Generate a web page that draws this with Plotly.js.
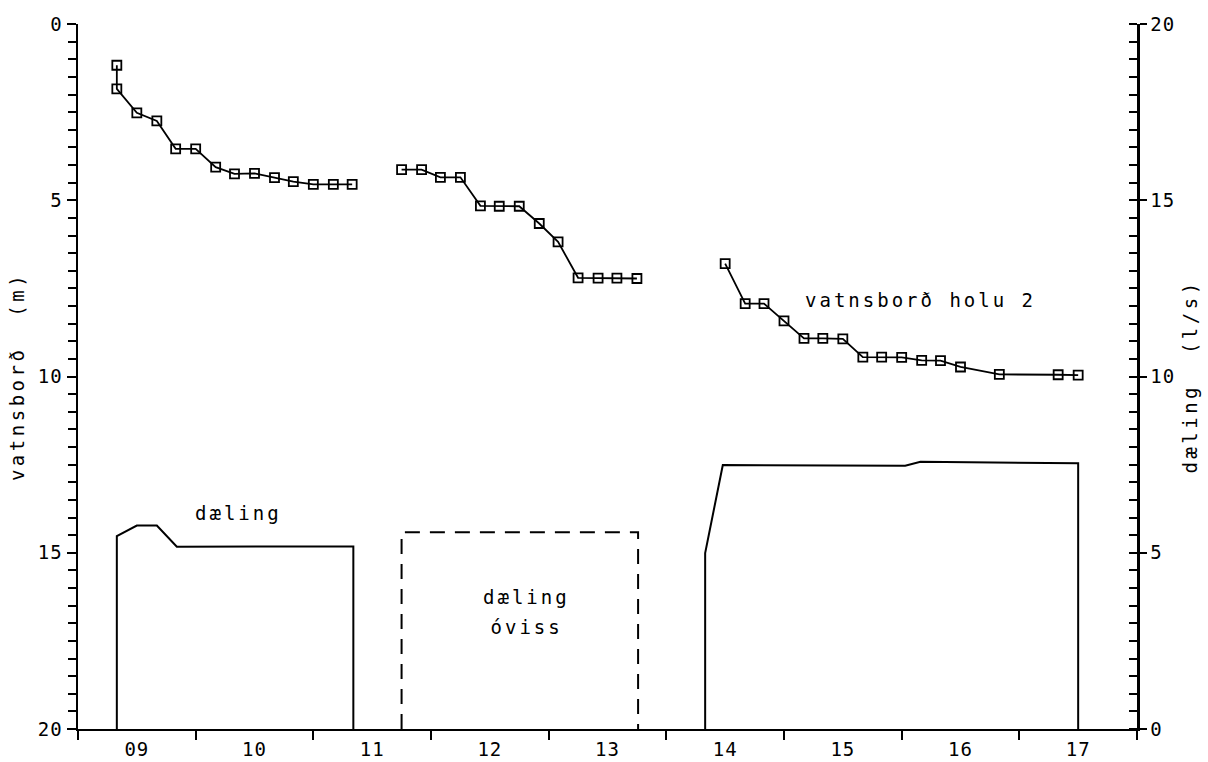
<!DOCTYPE html>
<html>
<head>
<meta charset="utf-8">
<script src="https://cdn.plot.ly/plotly-3.0.1.min.js"></script>
<style>
  html, body { margin: 0; padding: 0; background: #fff; }
  #chart { width: 1208px; height: 762px; }
  #chart .annotation-text { letter-spacing: 3px; }
  #chart .xtick text, #chart .ytick text, #chart .y2tick text { letter-spacing: 1px; }
  #chart .ytitle, #chart .y2title { letter-spacing: 3.5px; }
</style>
</head>
<body>
<div id="chart"></div>
<script>
// Water level in well 2 (m below reference), time of day in decimal hours
const levelTime1 = [8.83, 8.83, 9.00, 9.17, 9.33, 9.50, 9.67, 9.83, 10.00, 10.17, 10.33, 10.50, 10.67, 10.83];
const level1     = [1.17, 1.84, 2.52, 2.75, 3.54, 3.54, 4.06, 4.25, 4.24, 4.36, 4.47, 4.55, 4.55, 4.55];

const levelTime2 = [11.25, 11.42, 11.58, 11.75, 11.92, 12.08, 12.25, 12.42, 12.58, 12.75, 12.92, 13.08, 13.25];
const level2     = [4.13, 4.13, 4.35, 4.35, 5.16, 5.17, 5.17, 5.66, 6.18, 7.20, 7.21, 7.21, 7.22];

const levelTime3 = [14.00, 14.17, 14.33, 14.50, 14.67, 14.83, 15.00, 15.17, 15.33, 15.50, 15.67, 15.83, 16.00, 16.33, 16.83, 17.00];
const level3     = [6.80, 7.93, 7.93, 8.42, 8.92, 8.92, 8.93, 9.45, 9.45, 9.46, 9.54, 9.55, 9.73, 9.94, 9.95, 9.96];

// Pumping rate (l/s)
const pumpTime1 = [8.83, 8.83, 9.00, 9.17, 9.34, 10.84, 10.84];
const pump1     = [0, 5.47, 5.77, 5.77, 5.17, 5.18, 0];

// Pumping rate not known for this period
const pumpTime2 = [11.25, 11.25, 13.26, 13.26];
const pump2     = [0, 5.58, 5.58, 0];

const pumpTime3 = [13.83, 13.83, 13.98, 15.53, 15.66, 17.00, 17.00];
const pump3     = [0, 4.99, 7.49, 7.47, 7.58, 7.54, 0];

// Axis ticks and labels
const hourTicks  = [9, 10, 11, 12, 13, 14, 15, 16, 17];
const hourLabels = ['09', '10', '11', '12', '13', '14', '15', '16', '17'];
const hourBounds = [8.5, 9.5, 10.5, 11.5, 12.5, 13.5, 14.5, 15.5, 16.5, 17.5];

const FONT = 'DejaVu Sans Mono, monospace';
const INK = '#000';

function levelTrace(x, y) {
  return {
    x: x, y: y, type: 'scatter', mode: 'lines+markers',
    xaxis: 'x', yaxis: 'y',
    line: { color: INK, width: 1.8 },
    marker: { symbol: 'square-open', size: 9, color: INK, line: { color: INK, width: 1.8 } },
    hoverinfo: 'x+y'
  };
}

function pumpTrace(x, y, dash) {
  return {
    x: x, y: y, type: 'scatter', mode: 'lines',
    xaxis: 'x', yaxis: 'y2',
    line: { color: INK, width: 2, dash: dash },
    hoverinfo: 'x+y'
  };
}

const data = [
  levelTrace(levelTime1, level1),
  levelTrace(levelTime2, level2),
  levelTrace(levelTime3, level3),
  pumpTrace(pumpTime1, pump1, 'solid'),
  pumpTrace(pumpTime2, pump2, '15px,10px'),
  pumpTrace(pumpTime3, pump3, 'solid')
];

const textFont = { family: FONT, size: 19, color: INK };

const layout = {
  width: 1208, height: 762,
  margin: { l: 78, r: 71, t: 24, b: 33 },
  paper_bgcolor: '#fff', plot_bgcolor: '#fff',
  showlegend: false,
  font: textFont,
  xaxis: {
    range: [8.5, 17.5],
    tickmode: 'array', tickvals: hourTicks, ticktext: hourLabels,
    ticks: 'outside', ticklen: 2, tickcolor: 'rgba(0,0,0,0)',
    tickfont: textFont,
    minor: { tickmode: 'array', tickvals: hourBounds, ticks: 'outside', ticklen: 9, tickwidth: 2, tickcolor: INK, showgrid: false },
    showgrid: false, zeroline: false,
    showline: true, linecolor: INK, linewidth: 2
  },
  xaxis2: {
    overlaying: 'x', side: 'top', anchor: 'y',
    range: [8.5, 17.5],
    tickmode: 'array', tickvals: hourBounds,
    ticks: 'inside', ticklen: 9, tickwidth: 2, tickcolor: INK,
    showticklabels: false, showgrid: false, zeroline: false,
    showline: true, linecolor: INK, linewidth: 2
  },
  yaxis: {
    range: [20, 0],
    tickmode: 'linear', tick0: 0, dtick: 5,
    ticks: 'outside', ticklen: 9, tickwidth: 2, tickcolor: INK,
    minor: { tickmode: 'linear', tick0: 0, dtick: 0.5, ticks: 'outside', ticklen: 8, tickwidth: 2, tickcolor: INK, showgrid: false },
    tickfont: textFont,
    showgrid: false, zeroline: false,
    showline: true, linecolor: INK, linewidth: 2.5,
    title: { text: 'vatnsborð\u00a0\u00a0(m)', font: textFont, standoff: 10 }
  },
  yaxis2: {
    overlaying: 'y', side: 'right', anchor: 'x',
    range: [0, 20],
    tickmode: 'linear', tick0: 0, dtick: 5,
    ticks: 'outside', ticklen: 7, tickwidth: 2, tickcolor: INK,
    minor: { tickmode: 'linear', tick0: 0, dtick: 0.5, ticks: 'inside', ticklen: 8, tickwidth: 2, tickcolor: INK, showgrid: false },
    tickfont: textFont,
    showgrid: false, zeroline: false,
    showline: true, linecolor: INK, linewidth: 2.5,
    title: { text: 'dæling\u00a0\u00a0(l/s)', font: textFont, standoff: 12 }
  },
  annotations: [
    { text: 'vatnsborð holu 2', x: 15.66, y: 7.84, xref: 'x', yref: 'y', showarrow: false, font: textFont },
    { text: 'dæling', x: 9.86, y: 13.88, xref: 'x', yref: 'y', showarrow: false, font: textFont },
    { text: 'dæling', x: 12.31, y: 16.25, xref: 'x', yref: 'y', showarrow: false, font: textFont },
    { text: 'óviss', x: 12.31, y: 17.1, xref: 'x', yref: 'y', showarrow: false, font: textFont }
  ]
};

Plotly.newPlot('chart', data, layout, { staticPlot: true, displayModeBar: false });
</script>
</body>
</html>
